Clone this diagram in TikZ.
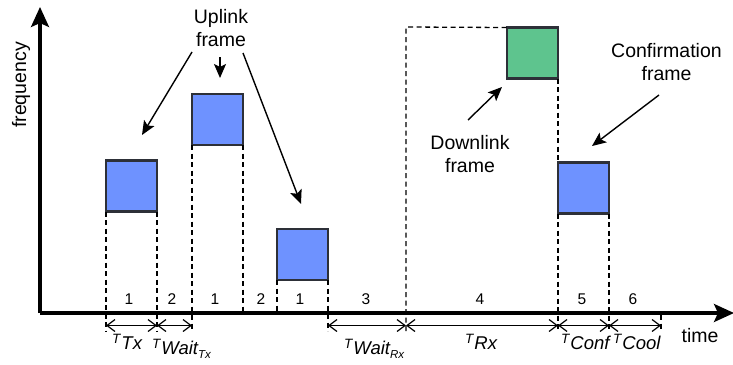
\documentclass[tikz,border=0pt]{standalone}
\usepackage{fontspec}
\setmainfont{Liberation Sans}
\usetikzlibrary{arrows.meta}

% T-labels: small raised T, larger italic name, optional small subscript
\newcommand\tsym{\raisebox{5.5pt}{\fontsize{13.5}{13.5}\selectfont\itshape T}\kern1pt}
\newcommand\tname[1]{{\fontsize{18.5}{18.5}\selectfont\itshape #1}}
\newcommand\tsub[1]{\raisebox{-4.5pt}{\fontsize{11.5}{11.5}\selectfont\itshape #1}}

\tikzset{
  frame/.style={draw={rgb,255:red,45;green,48;blue,56}, line width=2.4pt,
    minimum width=51pt, minimum height=51pt, inner sep=0pt, outer sep=0pt},
  ulframe/.style={frame, fill={rgb,255:red,110;green,146;blue,255}},
  dlframe/.style={frame, fill={rgb,255:red,94;green,196;blue,142}},
  guide/.style={line width=1.3pt, dash pattern=on 5pt off 3.5pt},
  dimarrow/.style={line width=1.2pt,
    {Straight Barb[length=8pt,width=12pt]}-{Straight Barb[length=8pt,width=12pt]}},
  callout/.style={line width=1.4pt, -{Stealth[length=14pt,width=12pt,inset=3pt]}},
  axisline/.style={line width=3.2pt, -{Stealth[length=20pt,width=18pt,inset=4pt]}},
  lbl/.style={font=\fontsize{19.5}{23}\selectfont, align=center, inner sep=0pt},
  num/.style={font=\fontsize{15.5}{16}\selectfont, inner sep=0pt},
  tl/.style={anchor=base west, inner sep=0pt},
}

\begin{document}
\begin{tikzpicture}[x=1pt, y=-1pt]
\useasboundingbox (0,0) rectangle (733,364);

% axes
\coordinate (origin) at (40,313);
\coordinate (ftop) at (40,7);
\coordinate (tend) at (734,313);
\draw[axisline] (origin) -- (ftop);
\draw[axisline] (origin) -- (tend);

% frames
\node[ulframe] (u1) at (131.5,186) {};
\node[ulframe] (u2) at (217.5,119.5) {};
\node[ulframe] (u3) at (302.5,254.5) {};
\node[dlframe] (dl) at (532.5,53) {};
\node[ulframe] (cf) at (583.5,188) {};

% guide ends below the time axis
\coordinate (g1) at (106,331);
\coordinate (g2) at (157,331);
\coordinate (g3) at (192,331);
\coordinate (g4) at (243,313);
\coordinate (g5) at (277,313);
\coordinate (g6) at (328,331);
\coordinate (g7) at (406,331);
\coordinate (g8) at (558,331);
\coordinate (g9) at (609,331);
\coordinate (g10a) at (661,315);
\coordinate (g10) at (661,331);
\coordinate (rxtop) at (406,27);

% dashed guides
\draw[guide] (u1.south west) -- (g1);
\draw[guide] (u1.south east) -- (g2);
\draw[guide] (u2.south west) -- (g3);
\draw[guide] (u2.south east) -- (g4);
\draw[guide] (u3.south west) -- (g5);
\draw[guide] (u3.south east) -- (g6);
\draw[guide] (g7) -- (rxtop) -- (dl.north west);
\draw[guide] (dl.south east) -- (cf.north west);
\draw[guide] (cf.south west) -- (g8);
\draw[guide] (cf.south east) -- (g9);
\draw[guide] (g10a) -- (g10);

% interval arrows
\coordinate (d1) at (106,325.5);
\coordinate (d2) at (157,325.5);
\coordinate (d3) at (192,325.5);
\coordinate (d4) at (328,325.5);
\coordinate (d5) at (406,325.5);
\coordinate (d6) at (558,325.5);
\coordinate (d7) at (609,325.5);
\coordinate (d8) at (661,325.5);
\draw[dimarrow] (d1) -- (d2);
\draw[dimarrow] (d2) -- (d3);
\draw[dimarrow] (d4) -- (d5);
\draw[dimarrow] (d5) -- (d6);
\draw[dimarrow] (d6) -- (d7);
\draw[dimarrow] (d7) -- (d8);

% phase numbers
\node[num] (n1) at (129,299) {1};
\node[num] (n2) at (172,299) {2};
\node[num] (n3) at (215,299) {1};
\node[num] (n4) at (261,299) {2};
\node[num] (n5) at (300,299) {1};
\node[num] (n6) at (366,299) {3};
\node[num] (n7) at (480,299) {4};
\node[num] (n8) at (582,299) {5};
\node[num] (n9) at (633,299) {6};

% interval labels
\node[tl] (ttx) at (112,349) {\tsym\tname{Tx}};
\node[tl] (twtx) at (152,354) {\tsym\tname{Wait}\tsub{Tx}};
\node[tl] (twrx) at (344,354) {\tsym\tname{Wait}\tsub{Rx}};
\node[tl] (trx) at (465,349) {\tsym\tname{Rx}};
\node[tl] (tconf) at (561,349) {\tsym\tname{Conf}};
\node[tl] (tcool) at (613,349) {\tsym\tname{Cool}};

% axis labels
\node[lbl, rotate=90] (freq) at (21,85) {frequency};
\node[lbl] (time) at (700,336) {time};

% frame labels and their pointers
\node[lbl] (uplink) at (221,28) {Uplink\\frame};
\node[lbl] (downlink) at (470,154) {Downlink\\frame};
\node[lbl] (confirm) at (666.5,62) {Confirmation\\frame};

\coordinate (ua) at (192,52);
\coordinate (uat) at (142,135);
\coordinate (ub) at (220,57);
\coordinate (ubt) at (220,78);
\coordinate (uc) at (243,53);
\coordinate (uct) at (301,204);
\coordinate (da) at (468,120);
\coordinate (dat) at (502,87);
\coordinate (ca) at (659,95);
\coordinate (cat) at (592,146);
\draw[callout] (ua) -- (uat);
\draw[callout] (ub) -- (ubt);
\draw[callout] (uc) -- (uct);
\draw[callout] (da) -- (dat);
\draw[callout] (ca) -- (cat);
\end{tikzpicture}
\end{document}
